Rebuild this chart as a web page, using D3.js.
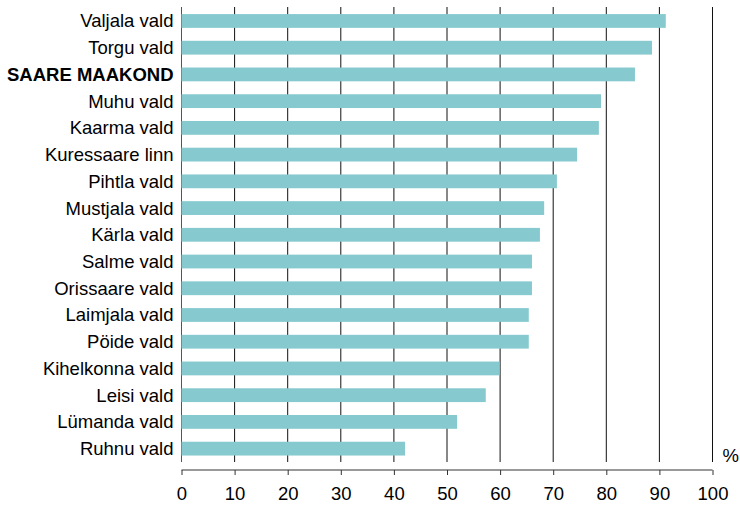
<!DOCTYPE html>
<html>
<head>
<meta charset="utf-8">
<script src="https://cdn.jsdelivr.net/npm/d3@7"></script>
<style>
  html, body { margin: 0; padding: 0; background: #fff; }
  svg { display: block; }
  text { font-family: "Liberation Sans", Arial, sans-serif; fill: #000; }
</style>
</head>
<body>
<svg id="chart" width="740" height="506"></svg>
<script>
const categories = [
  "Valjala vald", "Torgu vald", "SAARE MAAKOND", "Muhu vald", "Kaarma vald",
  "Kuressaare linn", "Pihtla vald", "Mustjala vald", "Kärla vald", "Salme vald",
  "Orissaare vald", "Laimjala vald", "Pöide vald", "Kihelkonna vald", "Leisi vald",
  "Lümanda vald", "Ruhnu vald"
];
const values = [91.2, 88.6, 85.4, 79.0, 78.6, 74.5, 70.7, 68.3, 67.5, 66.0, 66.0, 65.4, 65.4, 59.9, 57.3, 51.9, 42.1];
const boldCategories = ["SAARE MAAKOND"];
const xTicks = [0, 10, 20, 30, 40, 50, 60, 70, 80, 90, 100];
const unitLabel = "%";

const svg = d3.select("#chart");
const x = d3.scaleLinear().domain([0, 100]).range([181.5, 712.5]);
const y = d3.scaleBand().domain(categories).range([7.6, 462]).paddingInner(0.484).paddingOuter(0.242);

const gridTop = 7, gridBottom = 462, axisY = 470;
const fontSize = "18.5px";

// gridlines
svg.append("g").selectAll("line").data(xTicks).join("line")
  .attr("x1", d => x(d)).attr("x2", d => x(d))
  .attr("y1", gridTop).attr("y2", gridBottom)
  .attr("stroke", d => d === 0 ? "#555" : "#111").attr("stroke-width", 1);

// bars
svg.append("g").selectAll("rect").data(categories).join("rect")
  .attr("x", x(0))
  .attr("y", d => y(d))
  .attr("width", (d, i) => x(values[i]) - x(0))
  .attr("height", y.bandwidth())
  .attr("fill", "#86cacf");

// category labels
svg.append("g").selectAll("text").data(categories).join("text")
  .attr("x", 173.5)
  .attr("y", d => y(d) + y.bandwidth() / 2)
  .attr("dy", "0.35em")
  .attr("text-anchor", "end")
  .style("font-size", fontSize)
  .style("font-weight", d => boldCategories.includes(d) ? "bold" : "normal")
  .text(d => d);

// x axis
const axis = d3.axisBottom(x).tickValues(xTicks).tickSize(5).tickPadding(12).tickFormat(d3.format("d"));
const gAxis = svg.append("g").attr("transform", `translate(0,${axisY})`).call(axis);
gAxis.select(".domain").attr("stroke", "#333").attr("d", `M${x(0)},0H${x(100)}`);
gAxis.selectAll(".tick line").attr("stroke", "#333");
gAxis.selectAll(".tick text").style("font-size", fontSize).style("font-family", '"Liberation Sans", Arial, sans-serif').attr("fill", "#000");

// unit label
svg.append("text")
  .attr("x", 739).attr("y", 461.5)
  .attr("text-anchor", "end")
  .style("font-size", fontSize)
  .text(unitLabel);
</script>
</body>
</html>
